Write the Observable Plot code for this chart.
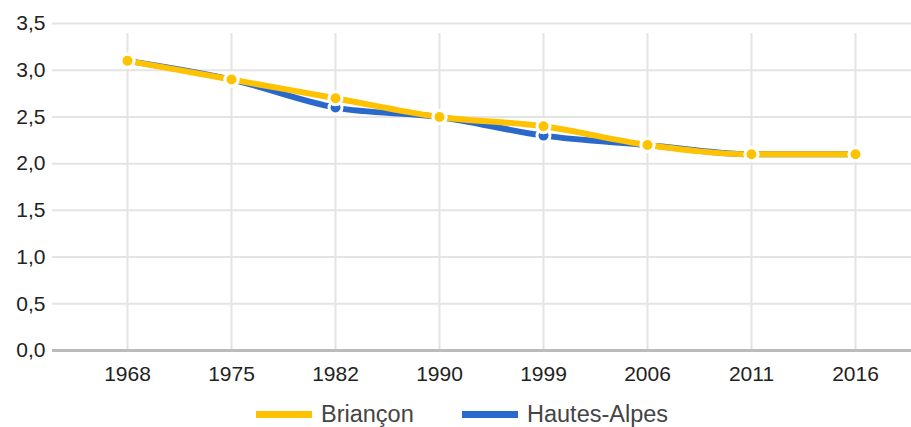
<!DOCTYPE html>
<html>
<head>
<meta charset="utf-8">
<script src="https://cdn.jsdelivr.net/npm/d3@7"></script>
<script src="https://cdn.jsdelivr.net/npm/@observablehq/plot@0.6"></script>
<style>
  html, body { margin: 0; padding: 0; background: #fff; }
  body { width: 911px; height: 427px; overflow: hidden; font-family: "Liberation Sans", Arial, sans-serif; }
  #legend { position: relative; height: 32px; font-size: 23.5px; color: #444; }
  .item { position: absolute; top: 3px; display: flex; align-items: center; height: 32px; }
  .sw { width: 56px; height: 7px; margin-right: 9px; }
</style>
</head>
<body>
<div id="chart"></div>
<div id="legend"></div>
<script>
const years = ["1968", "1975", "1982", "1990", "1999", "2006", "2011", "2016"];
const briancon = [3.1, 2.9, 2.7, 2.5, 2.4, 2.2, 2.1, 2.1];
const hautesAlpes = [3.1, 2.9, 2.6, 2.5, 2.3, 2.2, 2.1, 2.1];
const yTicks = [0, 0.5, 1, 1.5, 2, 2.5, 3, 3.5];
const seriesNames = ["Briançon", "Hautes-Alpes"];
const colors = ["#ffc200", "#2a69cc"];

const dataB = years.map((y, i) => ({year: y, value: briancon[i]}));
const dataH = years.map((y, i) => ({year: y, value: hautesAlpes[i]}));
const fmt = d => d.toFixed(1).replace(".", ",");

const chart = Plot.plot({
  width: 911,
  height: 395,
  marginTop: 23,
  marginBottom: 45,
  marginLeft: 52,
  marginRight: 0,
  insetLeft: 74.7,
  insetRight: 56,
  style: {fontFamily: '"Liberation Sans", Arial, sans-serif', fontSize: "21px", color: "#222", background: "#fff"},
  x: {type: "point", domain: years, padding: 0, label: null},
  y: {domain: [0, 3.5], label: null},
  marks: [
    Plot.ruleY(yTicks.filter(d => d > 0), {stroke: "#e4e4e4", strokeWidth: 2}),
    Plot.ruleX(years, {x: d => d, y1: 0, y2: 3.5, insetBottom: -10, stroke: "#e4e4e4", strokeWidth: 2}),
    Plot.ruleY([0], {stroke: "#bbbbbb", strokeWidth: 3}),
    Plot.axisY({ticks: yTicks, tickFormat: fmt, tickSize: 0, tickPadding: 7, fill: "#222", label: null}),
    Plot.axisX({tickSize: 0, tickPadding: 16, fill: "#222", label: null}),
    Plot.line(dataH, {x: "year", y: "value", stroke: colors[1], strokeWidth: 6, curve: "monotone-x"}),
    Plot.line(dataB, {x: "year", y: "value", stroke: colors[0], strokeWidth: 6, curve: "monotone-x"}),
    Plot.dot(dataH, {x: "year", y: "value", r: 6.5, fill: colors[1], stroke: "#fff", strokeWidth: 3}),
    Plot.dot(dataB, {x: "year", y: "value", r: 6.5, fill: colors[0], stroke: "#fff", strokeWidth: 3})
  ]
});
document.getElementById("chart").appendChild(chart);

const legend = document.getElementById("legend");
const lefts = [256, 462];
seriesNames.forEach((name, i) => {
  const item = document.createElement("div");
  item.className = "item";
  item.style.left = lefts[i] + "px";
  const sw = document.createElement("div");
  sw.className = "sw";
  sw.style.background = colors[i];
  const t = document.createElement("span");
  t.textContent = name;
  item.appendChild(sw);
  item.appendChild(t);
  legend.appendChild(item);
});
</script>
</body>
</html>
